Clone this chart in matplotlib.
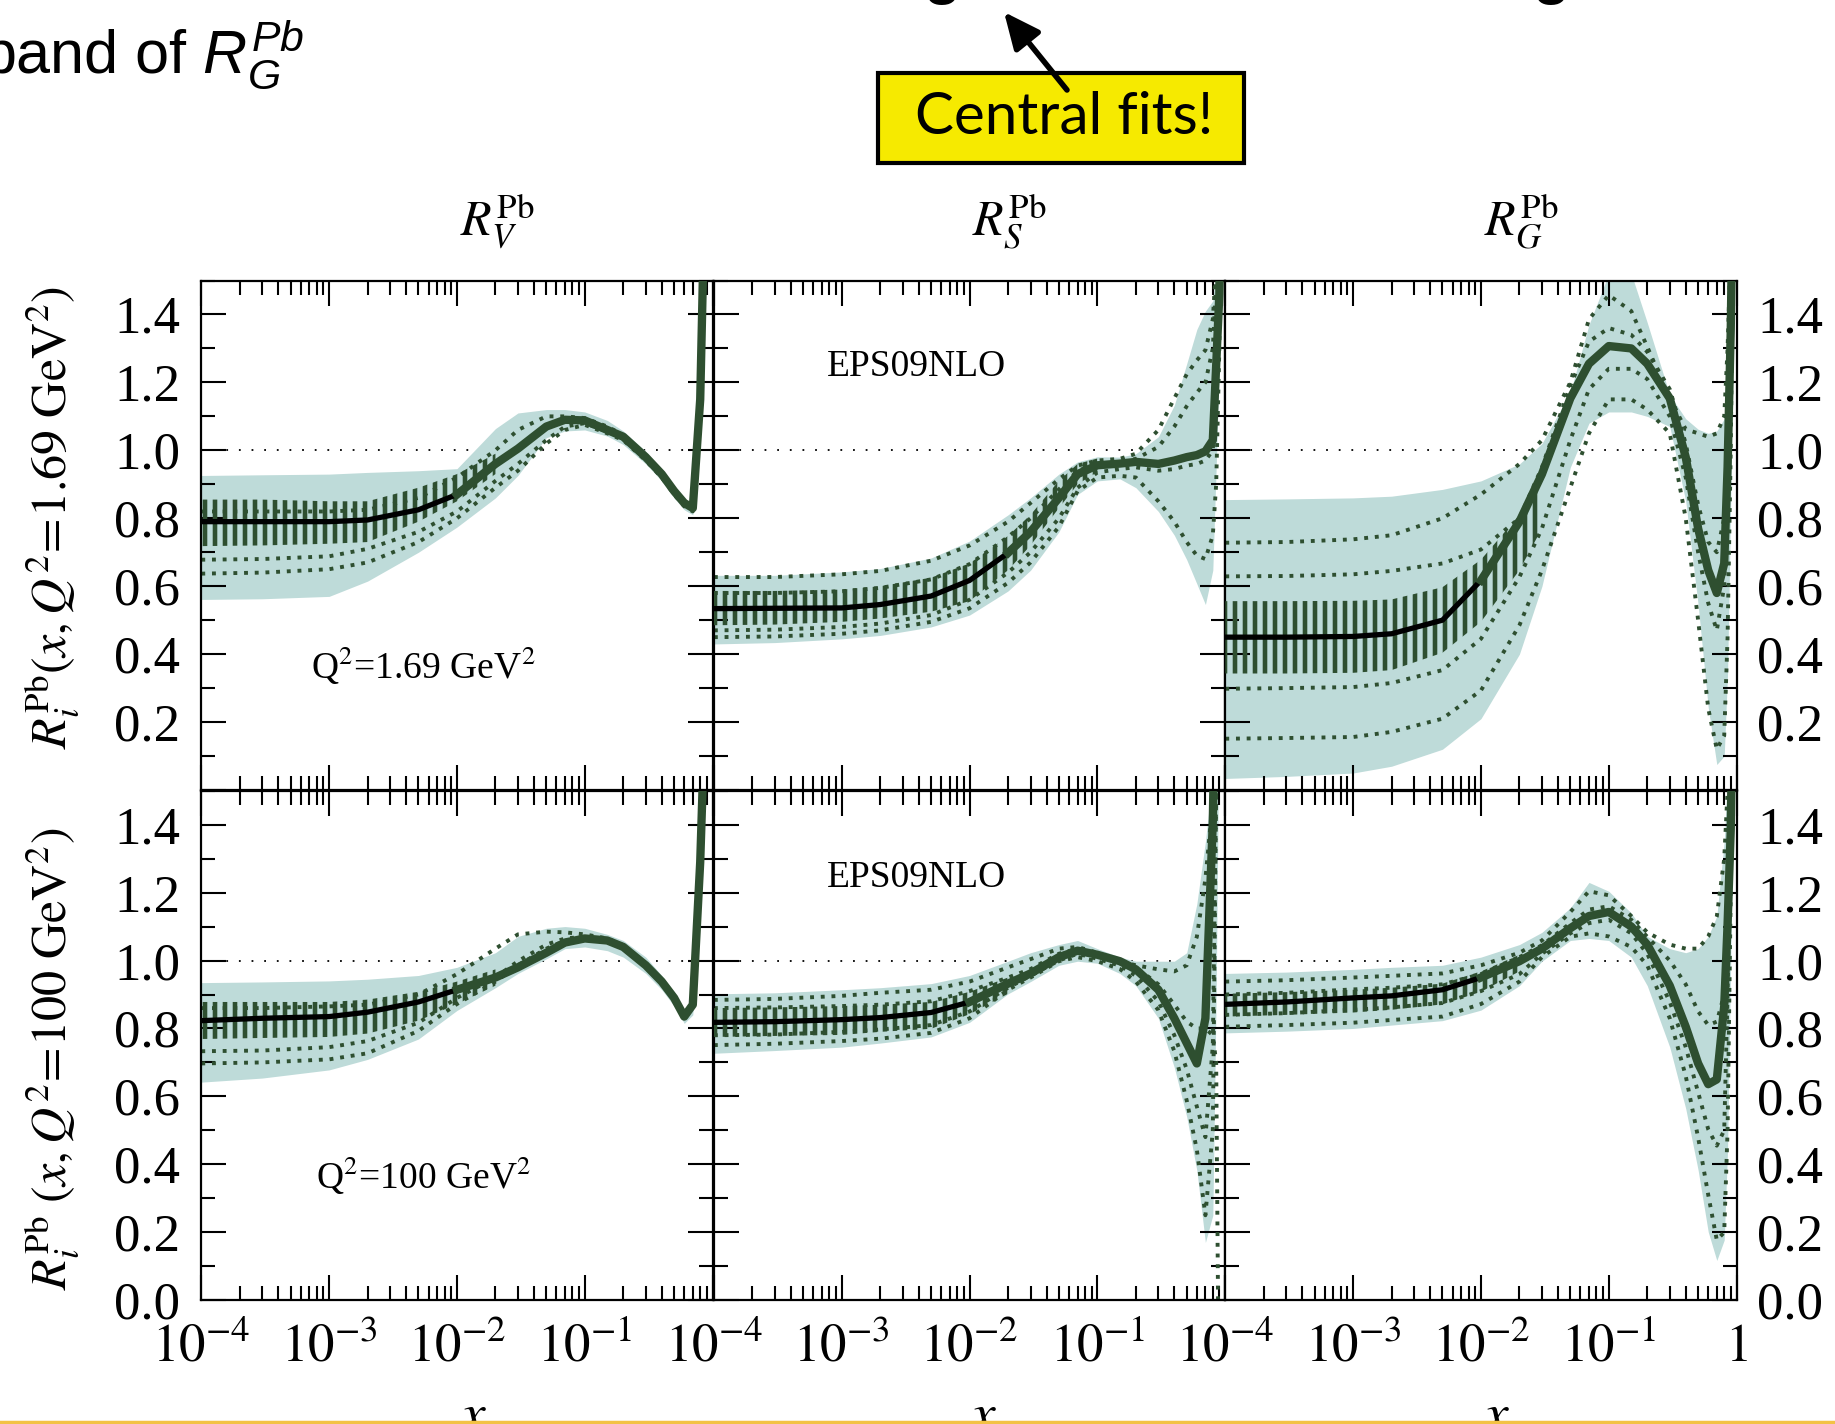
import numpy as np
import matplotlib
matplotlib.use("Agg")
import matplotlib.pyplot as plt
from matplotlib.patches import Rectangle, FancyArrowPatch
from matplotlib.lines import Line2D
from matplotlib.ticker import LogLocator, MultipleLocator, FuncFormatter

# ---------------- data ----------------
X = [1e-4, 3e-4, 1e-3, 2e-3, 5e-3, 1e-2, 2e-2, 3e-2, 5e-2, 7e-2, 0.1, 0.15,
     0.2, 0.3, 0.4, 0.5, 0.6, 0.7, 0.8, 0.85, 0.9, 0.95]

# R_V, Q^2 = 1.69 GeV^2
V1_central = [0.79, 0.79, 0.79, 0.795, 0.825, 0.87, 0.96, 1.005, 1.07, 1.09, 1.088, 1.06, 1.04, 0.98, 0.93, 0.88, 0.845, 0.83, 1.15, 1.6, 2.2, 2.8]
V1_hi = [0.926, 0.928, 0.93, 0.935, 0.94, 0.946, 1.064, 1.11, 1.12, 1.12, 1.113, 1.088, 1.057, 0.997, 0.94, 0.89, 0.855, 0.845, 1.2, 1.7, 2.3, 2.9]
V1_lo = [0.561, 0.563, 0.57, 0.615, 0.70, 0.774, 0.86, 0.926, 1.037, 1.057, 1.06, 1.042, 1.017, 0.96, 0.91, 0.86, 0.825, 0.81, 1.1, 1.5, 2.1, 2.7]
V1_sets = [
    [0.678, 0.68, 0.688, 0.71, 0.76, 0.82, 0.91, 0.96, 1.03, 1.07, 1.08, 1.055, 1.035, 0.975, 0.925, 0.875, 0.84, 0.825, 1.15, 1.6, 2.2, 2.8],
    [0.637, 0.64, 0.65, 0.67, 0.73, 0.80, 0.89, 0.94, 1.02, 1.06, 1.075, 1.05, 1.03, 0.97, 0.92, 0.87, 0.835, 0.82, 1.15, 1.6, 2.2, 2.8],
    [0.82, 0.82, 0.82, 0.825, 0.86, 0.92, 1.0, 1.06, 1.10, 1.10, 1.095, 1.07, 1.045, 0.985, 0.935, 0.885, 0.85, 0.835, 1.15, 1.6, 2.2, 2.8],
]
V1_ladder_lo = [0.718, 0.72, 0.725, 0.73, 0.79, 0.85, 0.93]
V1_ladder_hi = [0.855, 0.855, 0.85, 0.85, 0.89, 0.93, 0.99]

# R_S, Q^2 = 1.69 GeV^2
S1_central = [0.534, 0.535, 0.536, 0.546, 0.571, 0.617, 0.698, 0.76, 0.86, 0.93, 0.956, 0.961, 0.966, 0.96, 0.97, 0.98, 0.986, 0.997, 1.03, 1.25, 1.46, 2.0]
S1_hi = [0.632, 0.632, 0.642, 0.652, 0.683, 0.733, 0.81, 0.86, 0.93, 0.966, 0.981, 0.98, 0.99, 1.04, 1.133, 1.255, 1.356, 1.41, 1.44, 1.55, 1.8, 2.2]
S1_lo = [0.43, 0.434, 0.445, 0.455, 0.48, 0.515, 0.586, 0.647, 0.76, 0.87, 0.91, 0.916, 0.89, 0.82, 0.75, 0.678, 0.607, 0.546, 0.647, 0.95, 1.25, 1.8]
S1_sets = [
    [0.627, 0.627, 0.635, 0.645, 0.675, 0.72, 0.79, 0.845, 0.915, 0.955, 0.97, 0.975, 0.99, 1.06, 1.153, 1.224, 1.265, 1.295, 1.386, 1.55, 1.8, 2.2],
    [0.58, 0.58, 0.585, 0.595, 0.62, 0.665, 0.745, 0.80, 0.885, 0.94, 0.96, 0.965, 0.975, 1.01, 1.07, 1.13, 1.17, 1.2, 1.3, 1.5, 1.8, 2.2],
    [0.47, 0.472, 0.48, 0.49, 0.515, 0.56, 0.64, 0.70, 0.80, 0.89, 0.935, 0.945, 0.95, 0.94, 0.945, 0.955, 0.96, 0.97, 1.0, 1.2, 1.45, 2.0],
    [0.45, 0.452, 0.46, 0.47, 0.495, 0.535, 0.61, 0.67, 0.775, 0.88, 0.92, 0.925, 0.92, 0.85, 0.79, 0.73, 0.69, 0.68, 0.75, 0.9, 1.3, 2.0],
]
S1_ladder_lo = [0.485, 0.487, 0.495, 0.505, 0.525, 0.556, 0.647, 0.72, 0.83, 0.9, 0.936]
S1_ladder_hi = [0.586, 0.586, 0.59, 0.6, 0.625, 0.667, 0.748, 0.81, 0.91, 0.96, 0.976]

# R_G, Q^2 = 1.69 GeV^2
G1_central = [0.45, 0.45, 0.452, 0.46, 0.50, 0.617, 0.79, 0.93, 1.153, 1.255, 1.307, 1.30, 1.255, 1.153, 0.98, 0.77, 0.647, 0.58, 0.667, 0.95, 1.356, 2.0]
G1_hi = [0.855, 0.857, 0.86, 0.865, 0.885, 0.91, 0.96, 1.02, 1.17, 1.37, 1.52, 1.52, 1.376, 1.163, 1.093, 1.062, 1.05, 1.057, 1.093, 1.25, 1.6, 2.2]
G1_lo = [0.034, 0.04, 0.05, 0.07, 0.12, 0.21, 0.40, 0.60, 0.95, 1.08, 1.113, 1.113, 1.1, 1.07, 0.85, 0.546, 0.242, 0.075, 0.10, 0.343, 0.85, 1.6]
G1_sets = [
    [0.728, 0.73, 0.738, 0.75, 0.80, 0.87, 0.96, 1.03, 1.2, 1.386, 1.457, 1.41, 1.305, 1.153, 1.062, 1.05, 1.04, 1.05, 1.1, 1.3, 1.6, 2.2],
    [0.629, 0.63, 0.635, 0.645, 0.667, 0.708, 0.80, 0.95, 1.19, 1.32, 1.36, 1.34, 1.29, 1.18, 1.02, 0.84, 0.73, 0.7, 0.8, 1.0, 1.4, 2.0],
    [0.298, 0.30, 0.303, 0.315, 0.353, 0.445, 0.627, 0.77, 1.03, 1.18, 1.24, 1.24, 1.21, 1.10, 0.92, 0.70, 0.55, 0.47, 0.6, 0.9, 1.3, 2.0],
    [0.151, 0.153, 0.156, 0.171, 0.21, 0.293, 0.485, 0.647, 0.89, 1.05, 1.15, 1.15, 1.12, 1.05, 0.8, 0.5, 0.24, 0.12, 0.16, 0.45, 1.0, 1.8],
]
G1_ladder_lo = [0.343, 0.343, 0.345, 0.353, 0.404, 0.495, 0.647, 0.77]
G1_ladder_hi = [0.556, 0.556, 0.557, 0.561, 0.597, 0.678, 0.81, 0.95]

# R_V, Q^2 = 100 GeV^2
V2_central = [0.823, 0.83, 0.835, 0.848, 0.878, 0.914, 0.95, 0.98, 1.023, 1.053, 1.065, 1.059, 1.04, 0.986, 0.938, 0.89, 0.835, 0.87, 1.29, 1.6, 2.0, 2.5]
V2_hi = [0.935, 0.937, 0.94, 0.945, 0.956, 0.98, 1.023, 1.071, 1.095, 1.10, 1.095, 1.077, 1.059, 1.01, 0.956, 0.908, 0.855, 0.89, 1.35, 1.7, 2.1, 2.6]
V2_lo = [0.642, 0.654, 0.678, 0.709, 0.769, 0.853, 0.92, 0.962, 1.005, 1.035, 1.04, 1.029, 1.01, 0.962, 0.914, 0.866, 0.815, 0.84, 1.2, 1.5, 1.9, 2.4]
V2_sets = [
    [0.733, 0.735, 0.745, 0.763, 0.817, 0.89, 0.95, 0.998, 1.047, 1.065, 1.07, 1.06, 1.04, 0.985, 0.937, 0.889, 0.835, 0.87, 1.29, 1.6, 2.0, 2.5],
    [0.697, 0.70, 0.709, 0.727, 0.793, 0.872, 0.938, 0.986, 1.035, 1.059, 1.065, 1.058, 1.039, 0.984, 0.936, 0.888, 0.834, 0.87, 1.29, 1.6, 2.0, 2.5],
    [0.86, 0.86, 0.865, 0.87, 0.90, 0.96, 1.035, 1.077, 1.085, 1.083, 1.077, 1.065, 1.045, 0.99, 0.94, 0.892, 0.838, 0.875, 1.3, 1.6, 2.0, 2.5],
]
V2_ladder_lo = [0.769, 0.772, 0.775, 0.785, 0.823, 0.872, 0.926]
V2_ladder_hi = [0.878, 0.878, 0.878, 0.885, 0.908, 0.938, 0.974]

# R_S, Q^2 = 100 GeV^2
S2_central = [0.818, 0.82, 0.826, 0.832, 0.847, 0.878, 0.932, 0.962, 1.01, 1.029, 1.017, 0.998, 0.974, 0.914, 0.83, 0.757, 0.697, 0.83, 1.41, 2.0, 2.5, 3.0]
S2_hi = [0.902, 0.905, 0.914, 0.92, 0.932, 0.956, 0.998, 1.023, 1.047, 1.059, 1.035, 1.01, 0.998, 0.998, 0.998, 1.023, 1.167, 1.35, 1.55, 2.0, 2.5, 3.0]
S2_lo = [0.727, 0.735, 0.745, 0.757, 0.775, 0.818, 0.902, 0.938, 0.986, 0.998, 0.992, 0.962, 0.926, 0.83, 0.685, 0.54, 0.382, 0.17, 0.25, 0.9, 1.8, 2.5]
S2_sets = [
    [0.884, 0.887, 0.896, 0.905, 0.914, 0.938, 0.98, 1.004, 1.035, 1.04, 1.023, 0.998, 0.986, 0.974, 0.968, 0.986, 1.07, 1.24, 1.47, 2.0, 2.5, 3.0],
    [0.751, 0.755, 0.763, 0.77, 0.787, 0.83, 0.914, 0.95, 0.998, 1.01, 0.998, 0.975, 0.938, 0.854, 0.733, 0.588, 0.443, 0.25, 0.5, 1.5, 2.5, 3.0],
    [0.78, 0.782, 0.79, 0.797, 0.81, 0.85, 0.92, 0.955, 1.0, 1.02, 1.005, 0.985, 0.955, 0.88, 0.78, 0.68, 0.57, 0.48, 0.75, 1.5, 2.5, 3.0],
    [0.86, 0.862, 0.866, 0.87, 0.88, 0.91, 0.95, 0.975, 1.02, 1.035, 1.02, 1.0, 0.98, 0.93, 0.87, 0.82, 0.8, 0.8, 0.78, 0.7, -0.5, -1.0],
]
S2_ladder_lo = [0.775, 0.778, 0.781, 0.79, 0.799, 0.842, 0.902]
S2_ladder_hi = [0.86, 0.862, 0.866, 0.87, 0.878, 0.908, 0.95]

# R_G, Q^2 = 100 GeV^2
G2_central = [0.871, 0.878, 0.89, 0.896, 0.914, 0.95, 0.998, 1.035, 1.095, 1.131, 1.143, 1.10, 1.047, 0.926, 0.805, 0.697, 0.636, 0.65, 0.866, 1.107, 1.385, 2.0]
G2_hi = [0.962, 0.966, 0.974, 0.98, 0.986, 1.01, 1.047, 1.083, 1.155, 1.23, 1.204, 1.14, 1.071, 1.035, 1.023, 1.035, 1.071, 1.131, 1.35, 1.55, 2.0, 2.5]
G2_lo = [0.787, 0.792, 0.80, 0.81, 0.823, 0.854, 0.926, 0.998, 1.059, 1.065, 1.059, 1.01, 0.926, 0.745, 0.564, 0.383, 0.201, 0.117, 0.177, 0.443, 1.0, 1.6]
G2_sets = [
    [0.938, 0.942, 0.95, 0.955, 0.962, 0.986, 1.023, 1.059, 1.143, 1.204, 1.192, 1.131, 1.083, 1.047, 1.035, 1.035, 1.071, 1.13, 1.3, 1.5, 1.9, 2.5],
    [0.805, 0.81, 0.817, 0.825, 0.835, 0.872, 0.938, 1.01, 1.07, 1.08, 1.071, 1.04, 0.986, 0.83, 0.66, 0.479, 0.31, 0.177, 0.2, 0.5, 1.2, 2.0],
    [0.84, 0.845, 0.855, 0.862, 0.875, 0.91, 0.96, 1.02, 1.08, 1.11, 1.12, 1.08, 1.02, 0.878, 0.745, 0.612, 0.503, 0.455, 0.5, 0.9, 1.4, 2.0],
    [0.9, 0.905, 0.915, 0.92, 0.93, 0.96, 1.01, 1.045, 1.11, 1.15, 1.16, 1.12, 1.07, 1.0, 0.93, 0.85, 0.81, 0.82, 0.9, 1.2, 1.6, 2.2],
]
G2_ladder_lo = [0.835, 0.84, 0.847, 0.855, 0.871, 0.908, 0.968]
G2_ladder_hi = [0.902, 0.907, 0.914, 0.92, 0.932, 0.968, 1.017]

COL_TITLES = [r"$R_V^{\mathrm{Pb}}$", r"$R_S^{\mathrm{Pb}}$", r"$R_G^{\mathrm{Pb}}$"]
ROW_YLABELS = [r"$R_i^{\mathrm{Pb}}(x,Q^2\!=\!1.69\ \mathrm{GeV}^2)$",
               r"$R_i^{\mathrm{Pb}}\ (x,Q^2\!=\!100\ \mathrm{GeV}^2)$"]
ROW_QTEXT = [r"Q$^2$=1.69 GeV$^2$", r"Q$^2$=100 GeV$^2$"]
EPS_LABEL = "EPS09NLO"

# ---------------- style ----------------
DPI = 120
K = 100.0 / DPI          # sizes below are written for 100 dpi, scaled here
GREEN = "#2e4f30"
BAND = "#bedbd9"
plt.rcParams["font.family"] = ["Liberation Serif", "DejaVu Serif"]
plt.rcParams["mathtext.fontset"] = "stix"
plt.rcParams["mathtext.rm"] = "Liberation Sans"
plt.rcParams["mathtext.it"] = "Liberation Sans:italic"
plt.rcParams["hatch.linewidth"] = 3.3 * K
plt.rcParams["hatch.color"] = GREEN

W_PX, H_PX = 1835, 1424
fig = plt.figure(figsize=(W_PX / DPI, H_PX / DPI), dpi=DPI)

lefts = [201.3 / W_PX, 713.9 / W_PX, 1225.3 / W_PX]
aw = 511.3 / W_PX
bottoms = [1 - 790.0 / H_PX, 1 - 1300.2 / H_PX]
ah = 509.5 / H_PX

# last element: index from which the central curve is covered by the green sets
panels = [
    [(V1_central, V1_hi, V1_lo, V1_sets, V1_ladder_lo, V1_ladder_hi, 6),
     (S1_central, S1_hi, S1_lo, S1_sets, S1_ladder_lo, S1_ladder_hi, 7),
     (G1_central, G1_hi, G1_lo, G1_sets, G1_ladder_lo, G1_ladder_hi, 6)],
    [(V2_central, V2_hi, V2_lo, V2_sets, V2_ladder_lo, V2_ladder_hi, 6),
     (S2_central, S2_hi, S2_lo, S2_sets, S2_ladder_lo, S2_ladder_hi, 6),
     (G2_central, G2_hi, G2_lo, G2_sets, G2_ladder_lo, G2_ladder_hi, 6)],
]

x = np.array(X)


def xfmt_factory(col):
    def f(v, pos):
        if v <= 0:
            return ""
        e = int(round(np.log10(v)))
        if e == 0:
            return r"$1$" if col == 2 else ""
        return r"$10^{%d}$" % e
    return f


for r in range(2):
    for c in range(3):
        central, hi, lo, sets, llo, lhi, k = panels[r][c]
        ax = fig.add_axes([lefts[c], bottoms[r], aw, ah])
        ax.set_xscale("log")
        ax.set_xlim(1e-4, 1)
        ax.set_ylim(0, 1.5)

        ax.axhline(1.0, color="black", lw=1.3 * K, dashes=(1, 6), zorder=0.5)
        ax.fill_between(x, lo, hi, color=BAND, lw=0, zorder=1)
        for s in sets:
            ax.plot(x, s, color=GREEN, lw=2.8 * K, dashes=(1, 1.75), zorder=2)
        n = len(llo)
        ax.fill_between(x[:n], llo, lhi, facecolor="none", edgecolor=GREEN,
                        lw=0, hatch="||", zorder=3)
        cen = np.array(central)
        ax.plot(x, cen, color="black", lw=3.8 * K, zorder=4)
        ax.plot(x[k - 1:], cen[k - 1:], color=GREEN, lw=6.0 * K, zorder=4.5)

        for sp in ax.spines.values():
            sp.set_linewidth(1.6 * K)
        ax.tick_params(which="both", direction="in", top=True, right=True,
                       width=1.5 * K, colors="black")
        ax.tick_params(which="major", length=18 * K, labelsize=38 * K)
        ax.tick_params(which="minor", length=10 * K)
        ax.tick_params(axis="y", which="major", pad=15 * K)
        ax.tick_params(axis="x", which="major", pad=17 * K)
        ax.yaxis.set_major_locator(MultipleLocator(0.2))
        ax.yaxis.set_minor_locator(MultipleLocator(0.1))
        ax.xaxis.set_major_locator(LogLocator(base=10, numticks=10))
        ax.xaxis.set_minor_locator(LogLocator(base=10, subs=np.arange(2, 10), numticks=40))
        ax.xaxis.set_major_formatter(FuncFormatter(xfmt_factory(c)))
        ax.yaxis.set_major_formatter(FuncFormatter(
            lambda v, p, rr=r: "" if (rr == 0 and abs(v) < 1e-9) else "%.1f" % v))
        ax.tick_params(axis="y", labelleft=(c == 0), labelright=(c == 2))
        ax.tick_params(axis="x", labelbottom=(r == 1))

        if r == 0:
            ax.text(0.578, 1.115, COL_TITLES[c], transform=ax.transAxes,
                    fontsize=36 * K, ha="center", va="center")
        if c == 0:
            ax.text(0.434, 0.244, ROW_QTEXT[r], transform=ax.transAxes,
                    fontsize=27 * K, ha="center", va="center")
        if c == 1:
            ax.text(0.397, 0.83, EPS_LABEL, transform=ax.transAxes,
                    fontsize=27 * K, ha="center", va="center")

# y-axis labels
fig.text(53 / W_PX, 1 - 517 / H_PX, ROW_YLABELS[0], rotation=90, fontsize=36 * K,
         ha="center", va="center")
fig.text(53 / W_PX, 1 - 1059 / H_PX, ROW_YLABELS[1], rotation=90, fontsize=36 * K,
         ha="center", va="center")

# x-axis labels (cut by the bottom edge, as in the slide)
for cx in [473, 983, 1496]:
    fig.text(cx / W_PX, 1 - 1432 / H_PX, r"$x$", fontsize=40 * K, ha="center",
             va="baseline")

# slide decorations
fig.text(-18 / W_PX, 1 - 73 / H_PX, r"band of $R_G^{Pb}$", fontsize=44 * K,
         family="Liberation Sans", math_fontfamily="custom", va="baseline", ha="left")
for gx in [942, 1551]:
    fig.text(gx / W_PX, 1 + 8 / H_PX, "g", fontsize=44 * K, family="Liberation Sans",
             weight="bold", ha="center", va="baseline")

box = Rectangle((878 / W_PX, 1 - 163 / H_PX), 366 / W_PX, 90 / H_PX,
                transform=fig.transFigure, facecolor="#f6ea00",
                edgecolor="black", lw=3 * K, zorder=5)
fig.add_artist(box)
fig.text(1064 / W_PX, 1 - 118 / H_PX, "Central fits!", fontsize=42 * K, family="Lato",
         ha="center", va="center", zorder=6)
arr = FancyArrowPatch((1067 / W_PX, 1 - 90 / H_PX), (1004 / W_PX, 1 - 12 / H_PX),
                      transform=fig.transFigure,
                      arrowstyle="-|>,head_length=0.55,head_width=0.25",
                      mutation_scale=40 * K, lw=4 * K, color="black",
                      shrinkA=0, shrinkB=0, zorder=7)
fig.add_artist(arr)

fig.add_artist(Line2D([0, 1], [1 - 1421.5 / H_PX] * 2, transform=fig.transFigure,
                      color="#f3c244", lw=2.5 * K, zorder=8))

fig.savefig("out.png", dpi=DPI)
